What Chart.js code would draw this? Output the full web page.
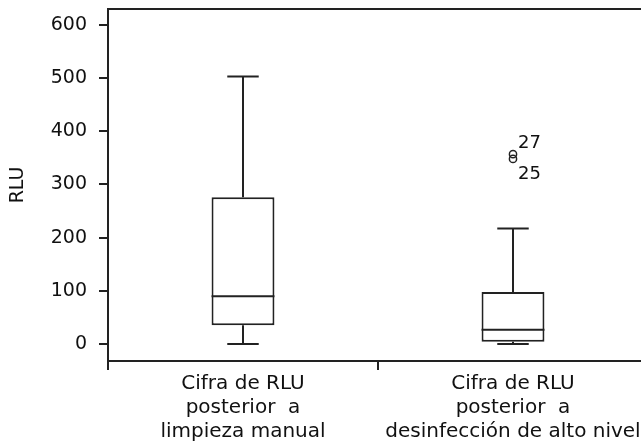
<!DOCTYPE html>
<html>
<head>
<meta charset="utf-8">
<script src="https://cdn.jsdelivr.net/npm/chart.js@4"></script>
<style>
html,body{margin:0;padding:0;background:#fff;overflow:hidden;width:641px;height:442px;}
canvas{display:block;}
</style>
</head>
<body>
<canvas id="c" width="660" height="442"></canvas>
<script>
const categories = [
  ["Cifra de RLU", "posterior  a", "limpieza manual"],
  ["Cifra de RLU", "posterior  a", "desinfección de alto nivel"]
];
const mins    = [0, 0];
const q1s     = [35, 4];
const medians = [90, 27];
const q3s     = [276, 98];
const maxs    = [503, 217];
const outlierValues = [357, 348];
const outlierLabels = ["27", "25"];
const outlierCategory = [1, 1];
const yTicks = [0, 100, 200, 300, 400, 500, 600];
const yMin = -32, yMax = 630;

const INK = '#222';
const FONT = "'DejaVu Sans', sans-serif";

const boxData = categories.map((c, i) => [q1s[i], q3s[i]]);
const outlierDatasets = outlierValues.map((v, k) => ({
  type: 'line',
  data: categories.map((c, i) => i === outlierCategory[k] ? v : null),
  showLine: false,
  pointRadius: 3.6,
  pointBorderWidth: 1.5,
  pointBorderColor: INK,
  pointBackgroundColor: 'rgba(0,0,0,0)',
  pointStyle: 'circle',
  label: outlierLabels[k]
}));

const boxPlugin = {
  id: 'boxplot',
  afterDatasetsDraw(chart) {
    const ctx = chart.ctx;
    const x = chart.scales.x, y = chart.scales.y;
    const meta = chart.getDatasetMeta(0);
    ctx.save();
    ctx.strokeStyle = INK;
    ctx.lineWidth = 2;
    categories.forEach((c, i) => {
      const bar = meta.data[i];
      const cx = x.getPixelForValue(i);
      const half = bar.width / 2;
      const capHalf = half / 2;
      const pMed = y.getPixelForValue(medians[i]);
      const pQ1 = y.getPixelForValue(q1s[i]);
      const pQ3 = y.getPixelForValue(q3s[i]);
      const pMin = y.getPixelForValue(mins[i]);
      const pMax = y.getPixelForValue(maxs[i]);
      ctx.beginPath();
      // median
      ctx.moveTo(cx - half, pMed); ctx.lineTo(cx + half, pMed);
      // whiskers
      ctx.moveTo(cx, pQ3); ctx.lineTo(cx, pMax);
      ctx.moveTo(cx - capHalf, pMax); ctx.lineTo(cx + capHalf, pMax);
      ctx.moveTo(cx, pQ1); ctx.lineTo(cx, pMin);
      ctx.moveTo(cx - capHalf, pMin); ctx.lineTo(cx + capHalf, pMin);
      ctx.stroke();
    });
    // outlier labels
    ctx.fillStyle = '#111';
    ctx.font = "18px " + FONT;
    ctx.textAlign = 'left';
    ctx.textBaseline = 'middle';
    outlierValues.forEach((v, k) => {
      const px = x.getPixelForValue(outlierCategory[k]);
      const py = y.getPixelForValue(v);
      const dy = k === 0 ? -11 : 15;
      ctx.fillText(outlierLabels[k], px + 5, py + dy);
    });
    // top frame line
    const a = chart.chartArea;
    ctx.beginPath();
    ctx.moveTo(a.left - 1, a.top);
    ctx.lineTo(a.right, a.top);
    ctx.stroke();
    ctx.restore();
  }
};

new Chart(document.getElementById('c'), {
  type: 'bar',
  data: {
    labels: categories,
    datasets: [{
      data: boxData,
      backgroundColor: '#fff',
      borderColor: INK,
      borderWidth: 2,
      borderSkipped: false,
      barPercentage: 0.233,
      categoryPercentage: 1
    }, ...outlierDatasets]
  },
  options: {
    responsive: false,
    animation: false,
    events: [],
    layout: { padding: { left: 0, right: 12, top: 9, bottom: 0 } },
    plugins: { legend: { display: false }, tooltip: { enabled: false } },
    scales: {
      x: {
        offset: true,
        grid: { offset: true, drawOnChartArea: false, drawTicks: true, tickLength: 9, color: INK, lineWidth: 2 },
        border: { display: true, color: INK, width: 2 },
        ticks: { color: '#111', font: { family: FONT, size: 20, lineHeight: 1.2 }, padding: 2, maxRotation: 0, autoSkip: false },
        afterFit(s) { s.height = 81; s.paddingLeft = 0; s.paddingRight = 0; }
      },
      y: {
        min: yMin, max: yMax,
        grid: { drawOnChartArea: false, drawTicks: true, tickLength: 9, color: INK, lineWidth: 2 },
        border: { display: true, color: INK, width: 2 },
        ticks: { color: '#111', font: { family: FONT, size: 19 }, padding: 12 },
        afterBuildTicks(s) { s.ticks = yTicks.map(v => ({ value: v })); },
        title: { display: true, text: 'RLU', color: '#111', font: { family: FONT, size: 19, lineHeight: 1.2 }, padding: { top: 7, bottom: 0 } },
        afterFit(s) { s.width = 108; s.paddingTop = 0; s.paddingBottom = 0; }
      }
    }
  },
  plugins: [boxPlugin]
});
</script>
</body>
</html>
